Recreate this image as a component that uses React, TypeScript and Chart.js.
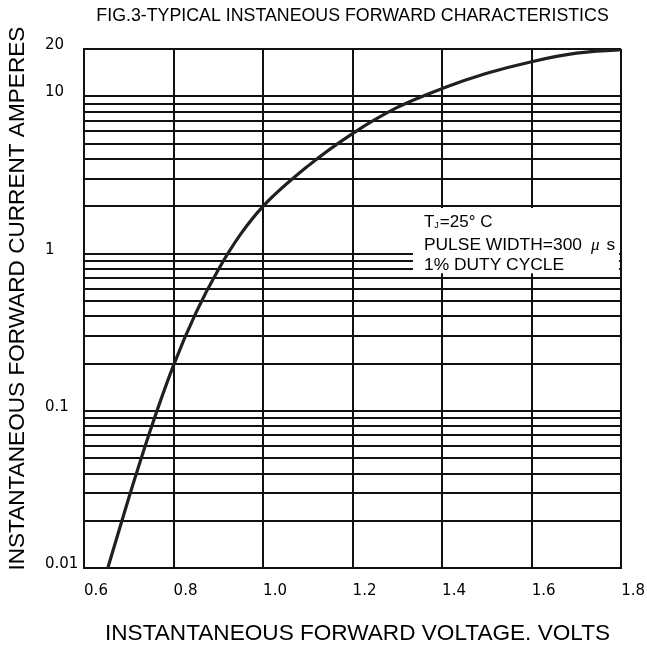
import React, { useEffect, useRef } from 'react';
import { Chart, registerables } from 'chart.js';

Chart.register(...registerables);

// ---- data ----
const VOLTS = [0.653, 0.70, 0.75, 0.80, 0.85, 0.90, 0.95, 1.0, 1.1, 1.2, 1.3, 1.4, 1.5, 1.6, 1.7, 1.8];
const AMPS = [0.01, 0.028, 0.078, 0.195, 0.42, 0.79, 1.33, 2.0, 3.6, 5.8, 8.5, 11.2, 14.0, 16.6, 18.8, 19.8];

const X_TICKS = [0.6, 0.8, 1.0, 1.2, 1.4, 1.6, 1.8];
const X_LABELS = ['0.6', '0.8', '1.0', '1.2', '1.4', '1.6', '1.8'];

const Y_GRID = [
  0.01, 0.02, 0.03, 0.04, 0.05, 0.06, 0.07, 0.08, 0.09,
  0.1, 0.2, 0.3, 0.4, 0.5, 0.6, 0.7, 0.8, 0.9,
  1, 2, 3, 4, 5, 6, 7, 8, 9,
  10, 20,
];
const Y_LABELED = [0.01, 0.1, 1, 10, 20];
const Y_LABELS = ['0.01', '0.1', '1', '10', '20'];

const TITLE = 'FIG.3-TYPICAL INSTANEOUS FORWARD CHARACTERISTICS';
const X_TITLE = 'INSTANTANEOUS FORWARD VOLTAGE. VOLTS';
const Y_TITLE = 'INSTANTANEOUS FORWARD CURRENT AMPERES';

const NOTE_T = 'T';
const NOTE_SUB = 'J';
const NOTE_TEMP = '=25° C';
const NOTE_PULSE = 'PULSE WIDTH=300';
const NOTE_MU = 'μ';
const NOTE_UNIT = 's';
const NOTE_DUTY = '1% DUTY CYCLE';
// note box corners in data units (volts, amperes)
const NOTE_BOX_V = 1.335;
const NOTE_BOX_I = [1.95, 0.75];

const SANS = '"Liberation Sans", Arial, sans-serif';
const TICK_FONT = '"DejaVu Sans", sans-serif';

const overlayPlugin = {
  id: 'overlay',
  beforeDatasetsDraw(chart: any) {
    const { ctx, chartArea, scales } = chart;
    const xs = scales.x;
    const ys = scales.y;
    const left = xs.getPixelForValue(NOTE_BOX_V);
    const right = chartArea.right - 2;
    const top = ys.getPixelForValue(NOTE_BOX_I[0]);
    const bottom = ys.getPixelForValue(NOTE_BOX_I[1]);
    ctx.save();
    ctx.fillStyle = '#ffffff';
    ctx.fillRect(left, top, right - left, bottom - top);
    ctx.fillStyle = '#000000';
    ctx.textAlign = 'left';
    ctx.textBaseline = 'alphabetic';
    const tx = left + 11;
    // line 1
    let cx = tx;
    let by = top + 19;
    ctx.font = `17px ${SANS}`;
    ctx.fillText(NOTE_T, cx, by);
    cx += ctx.measureText(NOTE_T).width;
    ctx.font = `9px ${SANS}`;
    ctx.fillText(NOTE_SUB, cx, by + 1);
    cx += ctx.measureText(NOTE_SUB).width + 1;
    ctx.font = `17px ${SANS}`;
    ctx.fillText(NOTE_TEMP, cx, by);
    // line 2
    cx = tx;
    by = top + 42;
    ctx.font = `17.4px ${SANS}`;
    ctx.fillText(NOTE_PULSE, cx, by);
    cx += ctx.measureText(NOTE_PULSE).width + 9;
    ctx.font = `italic 17px "Liberation Serif", serif`;
    ctx.fillText(NOTE_MU, cx, by);
    cx += ctx.measureText(NOTE_MU).width + 7;
    ctx.font = `17.4px ${SANS}`;
    ctx.fillText(NOTE_UNIT, cx, by);
    // line 3
    by = top + 62;
    ctx.fillText(NOTE_DUTY, tx, by);
    ctx.restore();
  },
  afterDraw(chart: any) {
    const { ctx, chartArea } = chart;
    ctx.save();
    ctx.fillStyle = '#000000';
    ctx.font = `22.6px ${SANS}`;
    ctx.textAlign = 'center';
    ctx.textBaseline = 'middle';
    ctx.fillText(X_TITLE, (chartArea.left + chartArea.right) / 2 + 5, chartArea.bottom + 65);
    ctx.translate(chartArea.left - 66, (chartArea.top + chartArea.bottom) / 2 - 10);
    ctx.rotate(-Math.PI / 2);
    ctx.fillText(Y_TITLE, 0, 0);
    ctx.restore();
  },
};

export default function App() {
  const canvasRef = useRef<HTMLCanvasElement | null>(null);

  useEffect(() => {
    document.body.style.margin = '0';
    const canvas = canvasRef.current;
    if (!canvas) return;
    const points = VOLTS.map((v, i) => ({ x: v, y: AMPS[i] }));
    const chart = new Chart(canvas, {
      type: 'line',
      data: {
        datasets: [
          {
            data: points,
            borderColor: '#231f20',
            borderWidth: 3.2,
            pointRadius: 0,
            fill: false,
            cubicInterpolationMode: 'monotone',
          },
        ],
      },
      options: {
        responsive: false,
        animation: false,
        devicePixelRatio: 1,
        layout: { padding: { left: 45, right: 23.5, top: 0, bottom: 0 } },
        plugins: {
          legend: { display: false },
          tooltip: { enabled: false },
          title: {
            display: true,
            text: TITLE,
            fullSize: false,
            color: '#000000',
            font: { family: SANS, size: 17.8, weight: 'normal' },
            padding: { top: 5, bottom: 22.6 },
          },
        },
        scales: {
          x: {
            type: 'linear',
            min: 0.6,
            max: 1.8,
            afterBuildTicks: (scale: any) => {
              scale.ticks = X_TICKS.map((value) => ({ value }));
            },
            afterFit: (scale: any) => {
              scale.height = 81.7;
            },
            grid: { color: '#111111', lineWidth: 2, drawTicks: false },
            border: { display: true, color: '#111111', width: 2 },
            ticks: {
              autoSkip: false,
              maxRotation: 0,
              padding: 14,
              labelOffset: 12,
              color: '#000000',
              font: { family: TICK_FONT, size: 15 },
              callback: (_v: any, index: number) => X_LABELS[index],
            },
          },
          y: {
            type: 'logarithmic',
            min: 0.01,
            max: 20,
            afterBuildTicks: (scale: any) => {
              scale.ticks = Y_GRID.map((value) => ({ value }));
            },
            afterFit: (scale: any) => {
              scale.width = 39;
            },
            grid: { color: '#111111', lineWidth: 2, drawTicks: false },
            border: { display: true, color: '#111111', width: 2 },
            ticks: {
              autoSkip: false,
              crossAlign: 'far',
              padding: 0,
              labelOffset: -4,
              color: '#000000',
              font: { family: TICK_FONT, size: 15 },
              callback: (value: any) => {
                const idx = Y_LABELED.findIndex((v) => Math.abs(v - Number(value)) < v * 1e-6);
                return idx >= 0 ? Y_LABELS[idx] : '';
              },
            },
          },
        },
      } as any,
      plugins: [overlayPlugin],
    });
    return () => {
      chart.destroy();
    };
  }, []);

  return (
    <div style={{ width: 647, height: 650, background: '#ffffff' }}>
      <canvas ref={canvasRef} width={647} height={650} style={{ display: 'block' }} />
    </div>
  );
}
